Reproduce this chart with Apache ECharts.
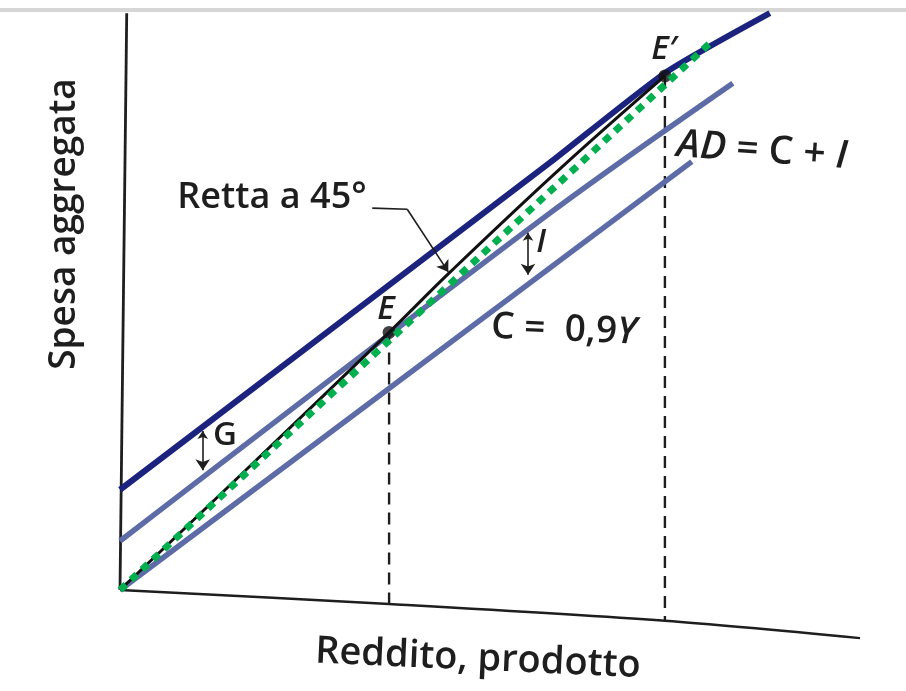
<!DOCTYPE html>
<html>
<head>
<meta charset="utf-8">
<title>Spesa aggregata e reddito</title>
<script src="https://cdn.jsdelivr.net/npm/echarts@6/dist/echarts.min.js"></script>
<style>
  html, body { margin: 0; padding: 0; background: #ffffff; }
  #chart { width: 906px; height: 691px; }
</style>
</head>
<body>
<div id="chart"></div>
<script>
// Axis titles
const xTitle = 'Reddito, prodotto';
const yTitle = 'Spesa aggregata';

// Reference 45° line (dotted) and the drawn 45° line
const linea45 = [[0, 0], [88, 98]];
const retta45 = [[0, 0], [19.3, 22.1], [40, 46], [49.1, 56.8], [65.4, 75.2], [81, 91.8]];

// Spending schedules
const spesaCIG = [[0, 17.9], [63.9, 76.3], [81, 92.3], [96.6, 103]];   // C + I + G
const domandaAD = [[0, 8.75], [63.9, 67.3], [91.1, 90.5]];             // AD = C + I
const consumoC = [[0, 0], [85, 76.5]];                                  // C = 0,9Y

// Equilibrium points E and E'
const equilibri = [[40, 46], [81, 91.8]];
const nomiEquilibri = ['E', 'E\u2032'];

// Axes as drawn lines
const asseX = [[0, 0], [40, -2.5], [81, -5.5], [110, -8.6]];
const asseY = [[0, 0], [1, 103]];

// Vertical guides from the equilibria down to the income axis
const guidaE = [[40, 46], [40, -2.5]];
const guidaE1 = [[81, 91.8], [81, -5.5]];

// Shift arrows (G and I) and the pointer for the 45° line label
const frecciaG = [[12.3, 28.4], [12.3, 21.4]];
const frecciaI = [[60.65, 63.8], [60.65, 56.3]];
const puntatoreTratto = [[37.5, 68.2], [42.7, 68.0]];
const puntatoreFreccia = [[42.7, 68.0], [48.8, 56.8]];

const NAVY = '#1b237e';
const SLATE = '#5d6ba7';
const GREEN = '#00b04f';
const INK = '#1e1e1e';
const FONT = '"Open Sans", "Noto Sans", sans-serif';

function plainLine(data, color, width, extra) {
  return Object.assign({
    type: 'line',
    data: data,
    showSymbol: false,
    symbol: 'none',
    silent: true,
    animation: false,
    lineStyle: { color: color, width: width, cap: 'butt' }
  }, extra || {});
}

function arrowLines(coords, symbols) {
  return {
    type: 'lines',
    coordinateSystem: 'cartesian2d',
    silent: true,
    animation: false,
    symbol: symbols,
    symbolSize: [8, 11],
    lineStyle: { color: INK, width: 1.6, opacity: 1, curveness: 0 },
    data: [{ coords: coords }],
    z: 6
  };
}

const chart = echarts.init(document.getElementById('chart'), null, { renderer: 'canvas' });

chart.setOption({
  backgroundColor: '#ffffff',
  animation: false,
  grid: { left: 120, top: 2, width: 740, height: 644, containLabel: false },
  xAxis: { type: 'value', min: 0, max: 110, show: false },
  yAxis: { type: 'value', min: -10, max: 105, show: false },
  series: [
    plainLine(asseX, INK, 2.4, { smooth: 0.3, z: 2 }),
    plainLine(asseY, INK, 2.8, { z: 2 }),
    plainLine(guidaE, INK, 2, { z: 2, lineStyle: { color: INK, width: 2.4, type: [12, 8] } }),
    plainLine(guidaE1, INK, 2, { z: 2, lineStyle: { color: INK, width: 2.4, type: [12, 8] } }),
    plainLine(spesaCIG, NAVY, 6, { smooth: 0.2, z: 3 }),
    plainLine(domandaAD, SLATE, 5.5, { smooth: 0.3, z: 3 }),
    plainLine(consumoC, SLATE, 5.5, { z: 3 }),
    plainLine(retta45, '#111111', 3, { smooth: 0.4, z: 4 }),
    {
      type: 'scatter',
      data: equilibri,
      symbolSize: 13,
      itemStyle: { color: '#111111' },
      silent: true,
      animation: false,
      z: 5
    },
    plainLine(linea45, GREEN, 7, { z: 7, lineStyle: { color: GREEN, width: 7, type: [8, 7], cap: 'butt' } }),
    arrowLines(frecciaG, ['arrow', 'arrow']),
    arrowLines(frecciaI, ['arrow', 'arrow']),
    arrowLines(puntatoreTratto, ['none', 'none']),
    arrowLines(puntatoreFreccia, ['none', 'arrow'])
  ],
  graphic: [
    // page edge band along the top
    { type: 'rect', left: 0, top: 8, shape: { width: 906, height: 4 }, style: { fill: '#d6d6d6' }, silent: true },
    {
      type: 'text', x: 64, y: 224, rotation: Math.PI / 2,
      style: { text: yTitle, font: '600 37px ' + FONT, fill: INK, align: 'center', verticalAlign: 'middle' }
    },
    {
      type: 'text', x: 478, y: 659, rotation: -0.045,
      style: { text: xTitle, font: '600 38px ' + FONT, fill: INK, align: 'center', verticalAlign: 'middle' }
    },
    {
      type: 'text', x: 272, y: 198,
      style: { text: 'Retta a 45°', font: '600 36px ' + FONT, fill: INK, align: 'center', verticalAlign: 'middle' }
    },
    {
      type: 'text', x: 386, y: 310,
      style: { text: nomiEquilibri[0], font: 'italic 600 33px ' + FONT, fill: INK, align: 'center', verticalAlign: 'middle' }
    },
    {
      type: 'text', x: 664, y: 50,
      style: { text: nomiEquilibri[1], font: 'italic 600 33px ' + FONT, fill: INK, align: 'center', verticalAlign: 'middle' }
    },
    {
      type: 'text', x: 762, y: 151, rotation: -0.07,
      style: {
        text: '{i|AD} = C + {i|I}', font: '600 39px ' + FONT, fill: INK, align: 'center', verticalAlign: 'middle',
        rich: { i: { fontStyle: 'italic', fontWeight: 600, fontSize: 39, fontFamily: FONT, fill: INK } }
      }
    },
    {
      type: 'text', x: 564, y: 330, rotation: -0.04,
      style: {
        text: 'C =  0,9{i|Y}', font: '600 37px ' + FONT, fill: INK, align: 'center', verticalAlign: 'middle',
        rich: { i: { fontStyle: 'italic', fontWeight: 600, fontSize: 37, fontFamily: FONT, fill: INK } }
      }
    },
    {
      type: 'text', x: 541, y: 243,
      style: { text: 'I', font: 'italic 600 33px ' + FONT, fill: INK, align: 'center', verticalAlign: 'middle' }
    },
    {
      type: 'text', x: 225, y: 436,
      style: { text: 'G', font: '600 33px ' + FONT, fill: INK, align: 'center', verticalAlign: 'middle' }
    }
  ]
});
</script>
</body>
</html>
